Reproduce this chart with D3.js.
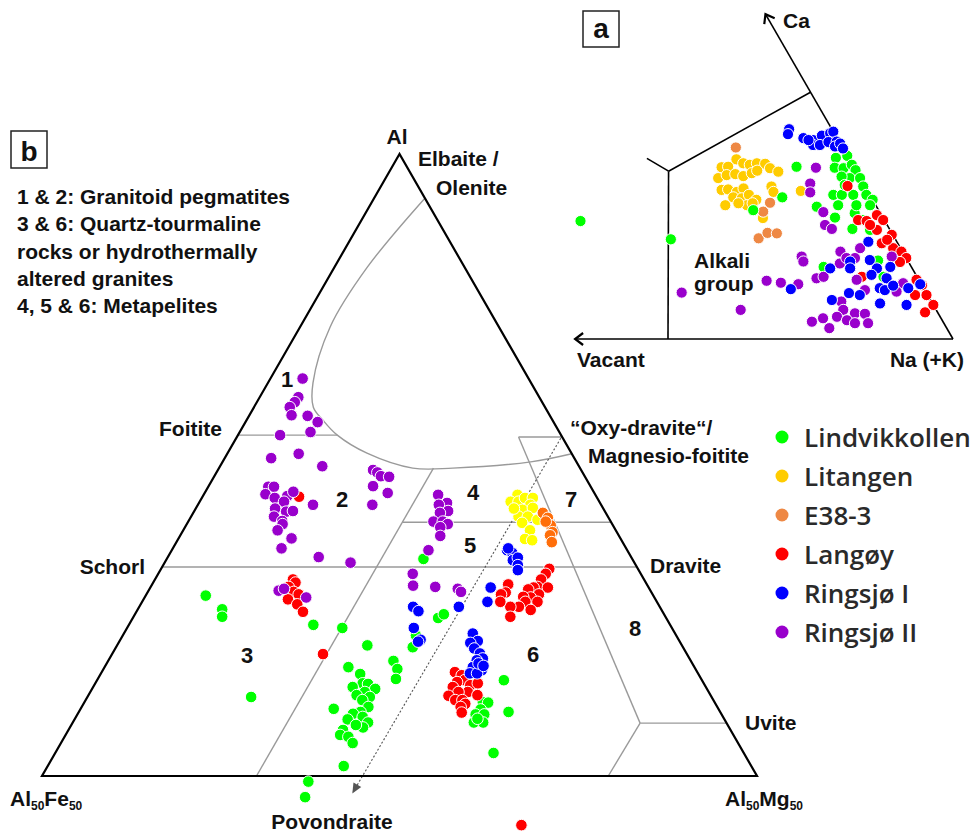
<!DOCTYPE html>
<html>
<head>
<meta charset="utf-8">
<script src="https://cdn.jsdelivr.net/npm/d3@7"></script>
<style>
  body { margin: 0; background: #fff; }
  text { font-family: "Liberation Sans", Arial, sans-serif; font-weight: bold; fill: #111; }
</style>
</head>
<body>
<svg id="chart" width="971" height="832"></svg>
<script>
// series, in legend order
const seriesNames = ['Lindvikkollen', 'Litangen', 'E38-3', 'Langøy', 'Ringsjø I', 'Ringsjø II'];
const legendColors = ['#00ff00', '#ffcc00', '#ee8844', '#ff0000', '#0000ff', '#9900cc'];
const mainColors = ['#00ff00', '#ffff00', '#ff6e0a', '#ff0000', '#0000ff', '#9900cc'];
const insetColors = ['#00ff00', '#ffcc00', '#ee8844', '#ff0000', '#0000ff', '#9900cc'];
const drawOrder = [1, 2, 0, 3, 5, 4];

// (b) Al - Al50Fe50 - Al50Mg50, points as [Al, Mg] in %, Fe = 100 - Al - Mg
const mainLindvikkollen = [
  [29.0, 8.4], [26.8, 11.8], [25.6, 12.4], [12.7, 22.9], [24.3, 25.8], [23.8, 30.1], [21.0, 35.0],
  [17.5, 34.1], [10.8, 35.4], [1.6, 41.4], [-0.9, 37.7], [-3.4, 38.5], [34.9, 35.9], [25.4, 42.7],
  [26.0, 43.2], [20.7, 41.5], [22.6, 41.0], [18.5, 39.9], [17.2, 41.1], [15.6, 41.7],
  [16.4, 36.3], [14.9, 37.4], [14.8, 38.2], [14.3, 36.3], [14.0, 39.6], [13.5, 38.4], [13.0, 37.5],
  [12.7, 39.5], [12.2, 38.7], [11.1, 40.1], [10.3, 39.4], [10.0, 38.5], [9.5, 40.1], [8.6, 41.3],
  [9.1, 38.2], [7.4, 38.4], [6.6, 38.4], [6.3, 39.7], [5.3, 40.8], [7.8, 41.0], [8.2, 39.8],
  [11.9, 55.7], [11.8, 56.5], [10.7, 56.0], [9.9, 55.7], [9.9, 56.9], [8.6, 56.1], [8.6, 57.4],
  [9.2, 56.3], [15.4, 56.9], [10.3, 60.1], [3.7, 61.3]
];
const mainLitangen = [
  [45.2, 43.9], [44.1, 43.5], [44.1, 44.6], [44.7, 45.2], [44.7, 46.3], [43.6, 46.5], [42.8, 45.8],
  [43.1, 47.1], [41.7, 45.8], [41.7, 47.1], [41.2, 48.7], [40.7, 46.8], [39.5, 48.5], [38.1, 48.5],
  [37.9, 49.6], [43.0, 44.5]
];
const mainE38 = [
  [42.3, 48.9], [41.5, 50.0], [40.3, 51.0], [39.2, 51.8], [38.7, 51.7], [37.6, 52.5], [40.9, 50.0]
];
const mainLangoy = [
  [44.9, 13.5], [31.6, 19.3], [31.1, 19.9], [30.4, 19.3], [29.6, 20.4], [29.2, 21.3], [28.4, 20.2],
  [27.6, 21.9], [26.4, 23.3], [19.6, 29.5],
  [33.3, 54.3], [32.5, 54.2], [31.6, 54.0], [30.4, 54.1], [30.3, 53.6], [30.0, 53.0], [30.3, 55.6],
  [29.2, 54.9], [28.7, 54.0], [28.8, 52.9], [28.0, 53.6], [28.0, 55.3], [27.2, 53.1], [27.2, 51.9],
  [26.7, 55.0], [25.6, 52.7], [30.8, 49.8], [29.5, 50.1], [29.2, 49.6], [28.0, 50.1], [-7.9, 71.0],
  [16.7, 49.4], [16.2, 50.6], [15.4, 51.4], [15.1, 50.5], [14.3, 50.3], [14.6, 52.6], [14.9, 53.5],
  [13.5, 52.8], [13.5, 51.5], [12.9, 50.4], [12.2, 51.7], [12.2, 52.7], [11.6, 53.4], [11.1, 53.0],
  [13.0, 54.4], [10.2, 53.6]
];
const mainRingsjoI = [
  [36.3, 46.9], [35.9, 47.8], [34.7, 48.5], [35.1, 49.0], [33.9, 49.6], [33.1, 50.0], [36.6, 46.9],
  [30.3, 47.6], [28.0, 48.3], [27.2, 44.7], [27.2, 38.3], [26.5, 39.4], [23.8, 40.1], [21.9, 42.0],
  [21.6, 41.8],
  [22.9, 48.8], [21.7, 50.1], [21.4, 49.2], [20.5, 50.2], [19.7, 51.4], [18.9, 52.2], [18.6, 51.5],
  [17.5, 51.5], [17.0, 53.0], [16.5, 51.6], [16.5, 52.6], [18.1, 52.0], [17.7, 52.9]
];
const mainRingsjoII = [
  [63.9, 4.5], [60.9, 5.4], [60.1, 5.3], [59.3, 5.0], [58.0, 5.9], [57.9, 8.2], [56.9, 10.1],
  [55.3, 9.9], [54.8, 5.9], [51.1, 6.5], [51.8, 10.0], [49.8, 14.3], [46.5, 8.4], [46.5, 9.2],
  [45.3, 8.6], [44.7, 10.2], [45.0, 11.8], [45.7, 12.3], [44.1, 11.8], [43.0, 11.1], [42.5, 12.9],
  [42.6, 13.8], [41.7, 11.6], [41.0, 13.1], [40.5, 13.4], [39.5, 13.2], [38.2, 15.8], [36.6, 15.2],
  [43.6, 16.1], [35.2, 21.1], [34.3, 26.0], [49.2, 21.7], [48.8, 22.5], [48.2, 23.3], [48.1, 24.5],
  [46.6, 23.0], [45.5, 25.6], [43.6, 24.4], [45.2, 32.8], [43.9, 34.7], [43.6, 33.7], [42.6, 35.5],
  [42.3, 34.5], [40.9, 34.3], [40.9, 35.6], [40.5, 36.5], [40.0, 35.7], [38.6, 36.4], [36.3, 35.9],
  [32.5, 35.6], [30.6, 36.6], [30.4, 39.8], [30.1, 43.1], [29.6, 43.8], [29.8, 18.2], [30.1, 18.8],
  [28.7, 22.6]
];

// field boundaries of (b), same [Al, Mg] units
const elbaiteCurve = [
  [92.9, 7.1], [81.8, 4.6], [72.2, 4.2], [63.2, 6.3], [59.3, 8.3], [57.2, 10.7], [54.8, 13.9],
  [51.9, 19.5], [49.5, 27.1], [49.5, 32.7], [50.5, 43.1], [51.8, 48.2]
];
const fieldLines = [
  [[54.8, 0], [54.8, 13.9]],
  [[33.6, 0], [33.6, 66.4]],
  [[49.5, 30], [0, 30]],
  [[40.8, 30], [40.8, 59.2]],
  [[54.5, 39.4], [54.5, 45.5]],
  [[54.5, 39.4], [8.5, 79.4]],
  [[8.5, 79.4], [8.5, 91.5]],
  [[8.5, 79.4], [0, 79.2]]
];
const trendArrow = [[54.3, 45.4], [-2.8, 44.8]];

// (a) Ca - Na(+K) - X-vacancy, points as [Ca, Vac] in %, Na = 100 - Ca - Vac
const insetLindvikkollen = [
  [23.9, 53.4], [20.2, 39.4], [28.7, 15.6], [26.1, 22.0], [34.9, 10.0], [36.7, 2.2], [37.1, 0],
  [34.7, 3.4], [34.6, 1.9], [35.3, 0.1], [34.2, 0], [32.6, 1.8], [32.9, 3.1], [32.6, 0], [29.2, 6.4],
  [29.2, 4.9], [29.2, 2.9], [30.9, 0.3], [29.2, 0.6], [28.2, 0], [27.1, 1.0], [26.8, 10.5],
  [24.6, 8.4], [25.5, 4.5], [22.3, 6.5], [22.1, 3.5], [14.6, 15.4], [15.9, 5.2], [12.6, 5.9],
  [31.2, 3.4], [27.1, 3.4], [24.1, 3.9], [27.1, 6.6]
];
const insetLitangen = [
  [34.8, 23.2], [34.9, 22.0], [36.4, 19.8], [35.6, 19.0], [35.3, 18.0], [35.6, 16.6], [35.5, 15.2],
  [34.6, 14.8], [33.9, 13.7], [32.6, 24.9], [33.2, 23.1], [33.4, 21.5], [33.0, 20.3], [33.6, 18.5],
  [34.1, 17.3], [30.2, 25.5], [30.3, 24.3], [29.8, 23.0], [30.5, 21.5], [28.7, 24.2], [27.1, 26.4],
  [28.5, 22.8], [29.2, 21.2], [28.2, 20.4], [27.1, 22.6], [30.9, 16.4], [29.8, 16.6], [24.5, 21.1],
  [27.5, 21.4], [27.5, 23.9], [30.0, 11.7]
];
const insetE38 = [[38.8, 18.7], [27.6, 18.3], [25.8, 20.4], [20.4, 23.9], [21.5, 21.8], [21.4, 20.2]];
const insetLangoy = [
  [31.0, 3.0], [24.1, 4.6], [23.9, 3.2], [25.1, 0.8], [24.1, 0.2], [22.1, 2.3], [21.1, 0.2],
  [19.4, 2.8], [18.4, 1.3], [17.7, 0.2], [16.4, 0], [12.0, 0.4], [10.9, 0], [8.9, 2.2], [8.9, 0.2],
  [6.9, 0], [5.4, 2.2], [12.6, 9.7], [23.1, 3.0], [20.1, 1.5], [15.6, 1.5]
];
const insetRingsjoI = [
  [42.5, 7.5], [41.5, 8.2], [40.7, 5.9], [40.3, 4.4], [41.2, 2.4], [41.7, 0.7], [42.0, 0],
  [39.3, 4.9], [39.3, 3.7], [39.9, 1.9], [40.0, 0.4], [39.0, 1.2], [39.6, 0], [38.6, 0], [40.3, 5.2],
  [19.7, 5.0], [15.7, 10.2], [14.3, 14.4], [14.3, 10.9], [16.0, 6.6], [14.3, 6.2], [13.0, 7.8],
  [12.3, 5.5], [14.6, 3.7], [10.3, 7.7], [9.9, 7.0], [10.8, 5.1], [10.3, 2.7], [11.1, 0.2],
  [8.9, 11.9], [7.2, 9.2], [6.9, 4.7], [9.3, 13.6], [7.9, 17.3], [10.1, 23.4]
];
const insetRingsjoII = [
  [9.4, 42.9], [5.9, 34.3], [11.8, 26.8], [11.4, 24.5], [34.7, 6.7], [31.5, 9.3], [29.7, 10.2],
  [25.7, 9.9], [23.1, 10.9], [22.3, 10.1], [17.7, 10.9], [18.4, 7.1], [16.7, 18.2], [15.7, 18.4],
  [15.3, 12.2], [16.4, 10.5], [16.4, 9.0], [12.3, 17.8], [12.6, 16.4], [11.1, 21.6], [12.0, 10.9],
  [9.9, 10.5], [7.6, 15.8], [5.9, 16.3], [5.2, 14.6], [5.1, 12.9], [3.5, 23.0], [4.2, 20.7],
  [4.5, 18.1], [3.8, 16.7], [3.2, 15.6], [3.2, 13.3], [2.2, 20.6], [16.7, 2.4], [11.3, 3.1], [9.6, 5.1]
];
// (a) field boundaries, [Ca, Vac]
const insetJunction = [34.0, 32.9];
const insetBoundEnds = [[0, 50], [50, 0], [36.6, 35.4]];
const insetAxisEnds = { vacant: [0, 66.3], ca: [65.8, 0] };

const mainData = [mainLindvikkollen, mainLitangen, mainE38, mainLangoy, mainRingsjoI, mainRingsjoII];
const insetData = [insetLindvikkollen, insetLitangen, insetE38, insetLangoy, insetRingsjoI, insetRingsjoII];

const svg = d3.select('#chart');

// scales: main triangle (x = Mg + Al/2, y = Al)
const mainX = d3.scaleLinear().domain([0, 100]).range([42, 757]);
const mainY = d3.scaleLinear().domain([0, 100]).range([776, 154]);
const mainPt = d => [mainX(d[1] + d[0] / 2), mainY(d[0])];

// inset triangle (x = Vac + Ca/2 measured from Na, y = Ca)
const insetX = d3.scaleLinear().domain([0, 100]).range([953, 383]);
const insetY = d3.scaleLinear().domain([0, 100]).range([339, -154.6]);
const insetPt = d => [insetX(d[1] + d[0] / 2), insetY(d[0])];

const mainLine = d3.line().x(d => mainPt(d)[0]).y(d => mainPt(d)[1]);
const insetLine = d3.line().x(d => insetPt(d)[0]).y(d => insetPt(d)[1]);

const defs = svg.append('defs');
defs.append('marker')
  .attr('id', 'chevron')
  .attr('viewBox', '-12 -8 14 16')
  .attr('refX', 0).attr('refY', 0)
  .attr('markerWidth', 14).attr('markerHeight', 16)
  .attr('markerUnits', 'userSpaceOnUse')
  .attr('orient', 'auto')
  .append('path')
    .attr('d', 'M-8,-6 L0,0 L-8,6')
    .attr('fill', 'none')
    .attr('stroke', '#000')
    .attr('stroke-width', 2.2);
defs.append('marker')
  .attr('id', 'tri')
  .attr('viewBox', '-12 -6 14 12')
  .attr('refX', 0).attr('refY', 0)
  .attr('markerWidth', 14).attr('markerHeight', 12)
  .attr('markerUnits', 'userSpaceOnUse')
  .attr('orient', 'auto')
  .append('path')
    .attr('d', 'M-10,-4.5 L0,0 L-10,4.5 Z')
    .attr('fill', '#555');

// ---------- (b) main diagram ----------
const main = svg.append('g');

main.append('path')
  .attr('d', mainLine.curve(d3.curveCatmullRom)(elbaiteCurve))
  .attr('fill', 'none')
  .attr('stroke', '#9a9a9a')
  .attr('stroke-width', 1.4);
mainLine.curve(d3.curveLinear);

main.selectAll('.field')
  .data(fieldLines)
  .enter().append('path')
    .attr('class', 'field')
    .attr('d', d => mainLine(d))
    .attr('fill', 'none')
    .attr('stroke', '#9a9a9a')
    .attr('stroke-width', 1.4);

main.append('path')
  .attr('d', mainLine(trendArrow))
  .attr('fill', 'none')
  .attr('stroke', '#555')
  .attr('stroke-width', 1.1)
  .attr('stroke-dasharray', '2,2')
  .attr('marker-end', 'url(#tri)');

main.append('path')
  .attr('d', mainLine([[100, 0], [0, 0], [0, 100]]) + 'Z')
  .attr('fill', 'none')
  .attr('stroke', '#000')
  .attr('stroke-width', 2.2)
  .attr('stroke-linejoin', 'miter');

drawOrder.forEach(i => {
  main.append('g').selectAll('circle')
    .data(mainData[i])
    .enter().append('circle')
      .attr('cx', d => mainPt(d)[0])
      .attr('cy', d => mainPt(d)[1])
      .attr('r', 5.8)
      .attr('fill', mainColors[i])
      .attr('stroke', '#fff')
      .attr('stroke-width', 1);
});

const label = (g, x, y, txt, size, anchor) => g.append('text')
  .attr('x', x).attr('y', y)
  .attr('font-size', size)
  .attr('text-anchor', anchor || 'start')
  .text(txt);

label(main, 397, 144, 'Al', 21, 'middle');
label(main, 418, 166, 'Elbaite /', 21);
label(main, 436, 195, 'Olenite', 21);
label(main, 222, 436, 'Foitite', 21, 'end');
label(main, 145, 574, 'Schorl', 21, 'end');
label(main, 650, 573, 'Dravite', 21);
label(main, 745, 730, 'Uvite', 21);
label(main, 570, 435, '\u201COxy-dravite\u201C/', 21);
label(main, 588, 463, 'Magnesio-foitite', 21);
label(main, 332, 829, 'Povondraite', 21, 'middle');

const subLabel = (x, y, a, b) => {
  const t = main.append('text').attr('x', x).attr('y', y).attr('font-size', 21);
  t.append('tspan').text(a);
  t.append('tspan').attr('font-size', 12).attr('dy', 4).text('50');
  t.append('tspan').attr('dy', -4).text(b);
  t.append('tspan').attr('font-size', 12).attr('dy', 4).text('50');
};
subLabel(10, 806, 'Al', 'Fe');
subLabel(725, 806, 'Al', 'Mg');

const regionNums = [
  ['1', 287, 387], ['2', 342, 507], ['3', 247, 663], ['4', 473, 500],
  ['5', 470, 553], ['6', 533, 662], ['7', 571, 507], ['8', 635, 636]
];
regionNums.forEach(r => label(main, r[1], r[2], r[0], 22, 'middle'));

main.append('rect')
  .attr('x', 11).attr('y', 131).attr('width', 36).attr('height', 37)
  .attr('fill', 'none').attr('stroke', '#222').attr('stroke-width', 1.5);
label(main, 29, 161, 'b', 28, 'middle');

const notes = [
  '1 & 2: Granitoid pegmatites',
  '3 & 6: Quartz-tourmaline',
  'rocks or hydrothermally',
  'altered granites',
  '4, 5 & 6: Metapelites'
];
notes.forEach((n, i) => label(main, 17, 204 + i * 27.3, n, 21));

// ---------- (a) inset ----------
const inset = svg.append('g');

inset.append('path')
  .attr('d', insetLine([[0, 0], insetAxisEnds.vacant]))
  .attr('stroke', '#000').attr('stroke-width', 1.6).attr('fill', 'none')
  .attr('marker-end', 'url(#chevron)');
inset.append('path')
  .attr('d', insetLine([[0, 0], insetAxisEnds.ca]))
  .attr('stroke', '#000').attr('stroke-width', 1.6).attr('fill', 'none')
  .attr('marker-end', 'url(#chevron)');

insetBoundEnds.forEach(e => {
  inset.append('path')
    .attr('d', insetLine([insetJunction, e]))
    .attr('stroke', '#000').attr('stroke-width', 1.6).attr('fill', 'none');
});

drawOrder.forEach(i => {
  inset.append('g').selectAll('circle')
    .data(insetData[i])
    .enter().append('circle')
      .attr('cx', d => insetPt(d)[0])
      .attr('cy', d => insetPt(d)[1])
      .attr('r', 5.6)
      .attr('fill', insetColors[i])
      .attr('stroke', '#fff')
      .attr('stroke-width', 1);
});

label(inset, 783, 28, 'Ca', 21);
label(inset, 577, 367, 'Vacant', 21);
label(inset, 964, 367, 'Na (+K)', 21, 'end');
label(inset, 694, 268, 'Alkali', 21);
label(inset, 694, 291, 'group', 21);

inset.append('rect')
  .attr('x', 583).attr('y', 11).attr('width', 36).attr('height', 36)
  .attr('fill', 'none').attr('stroke', '#222').attr('stroke-width', 1.5);
label(inset, 601, 38, 'a', 28, 'middle');

// ---------- legend ----------
const legend = svg.append('g').attr('transform', 'translate(782, 437)');
seriesNames.forEach((name, i) => {
  const row = legend.append('g').attr('transform', `translate(0, ${i * 39})`);
  row.append('circle')
    .attr('r', 6.5)
    .attr('fill', legendColors[i]);
  row.append('text')
    .attr('x', 22)
    .attr('y', 10)
    .attr('font-size', 26)
    .style('font-family', '"Open Sans", sans-serif')
    .style('font-weight', 600)
    .style('fill', '#2a2a2a')
    .text(name);
});
</script>
</body>
</html>
